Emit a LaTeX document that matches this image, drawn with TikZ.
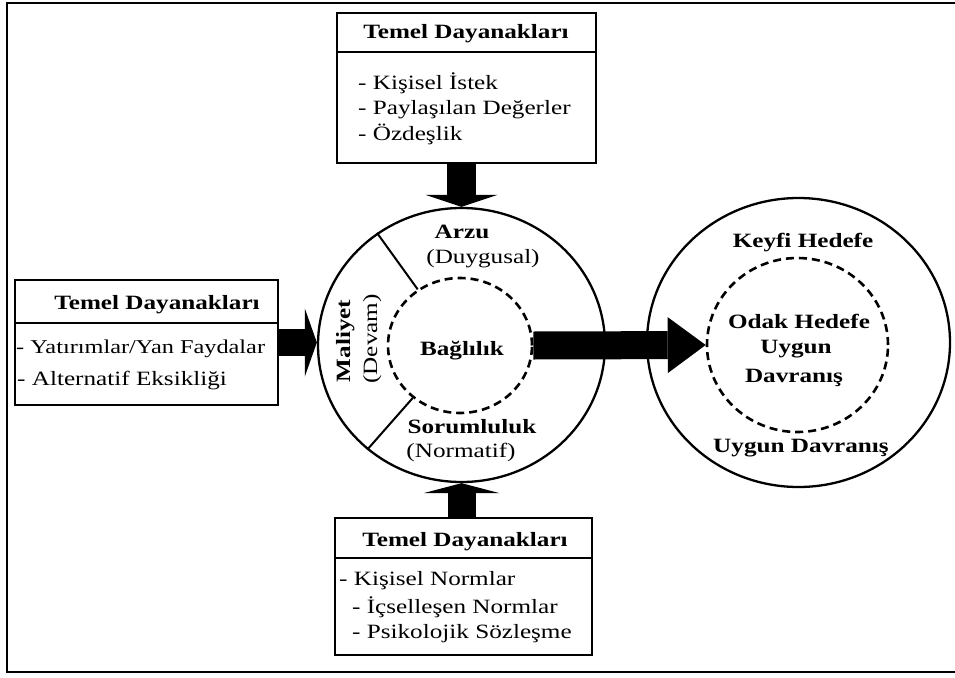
\documentclass[tikz,border=0pt]{standalone}
\usepackage{fontspec}
\setmainfont[FakeStretch=1.24]{Liberation Serif}
\usetikzlibrary{shapes.geometric,arrows.meta}

\begin{document}
\begin{tikzpicture}[x=1pt,y=-1pt,
  every node/.style={font=\fontsize{20.3}{25}\selectfont, inner sep=0pt},
  infobox/.style={draw, rectangle, line width=2.2pt},
  ring/.style={ellipse, draw, line width=2.3pt},
  dashring/.style={ellipse, draw, line width=2.6pt, dash pattern=on 8pt off 5pt},
  heading/.style={anchor=base, font=\fontsize{20.3}{25}\selectfont\bfseries},
  plain/.style={anchor=base},
  item/.style={anchor=base west},
  blockarrow/.style={line width=#1, draw=black}
]
% page area and outer frame (open on the right)
\useasboundingbox (0,0) rectangle (955,677);
\fill[white] (0,0) rectangle (955,677);
\draw[line width=2.4pt] (955,3) -- (7,3) -- (7,672) -- (955,672);

% three source boxes
\node[infobox, minimum width=259pt, minimum height=150pt] (topbox) at (466.5,88) {};
\node[infobox, minimum width=263pt, minimum height=125pt] (leftbox) at (146.5,342.5) {};
\node[infobox, minimum width=257pt, minimum height=137pt] (botbox) at (463.5,586.5) {};
\draw[line width=2pt] (topbox.west |- 0,52) -- (topbox.east |- 0,52);
\draw[line width=2pt] (leftbox.west |- 0,323) -- (leftbox.east |- 0,323);
\draw[line width=2pt] (botbox.west |- 0,558) -- (botbox.east |- 0,558);

\node[heading] (tophead) at (466,38) {Temel Dayanakları};
\node[item] (top1) at (358,89) {- Kişisel İstek};
\node[item] (top2) at (358,114) {- Paylaşılan Değerler};
\node[item] (top3) at (358,140) {- Özdeşlik};

\node[heading] (lefthead) at (157,309) {Temel Dayanakları};
\node[item, font=\fontsize{19.6}{25}\selectfont] (left1) at (16,353) {- Yatırımlar/Yan Faydalar};
\node[item] (left2) at (17,385) {- Alternatif Eksikliği};

\node[heading] (bothead) at (465,546) {Temel Dayanakları};
\node[item] (bot1) at (339,585) {- Kişisel Normlar};
\node[item] (bot2) at (352,613) {- İçselleşen Normlar};
\node[item] (bot3) at (352,638) {- Psikolojik Sözleşme};

% commitment circle
\node[ring, minimum width=287pt, minimum height=274pt] (commit) at (461.5,345) {};
\node[dashring, minimum width=144pt, minimum height=135pt] (bond) at (460,345.5) {};
\draw[line width=2pt] (bond.127) -- (commit.127);
\draw[line width=2pt] (bond.228) -- (commit.228);

\node[heading] (arzu) at (462,238) {Arzu};
\node[plain] (duygu) at (483,263) {(Duygusal)};
\node[heading] (bag) at (462,355) {Bağlılık};
\node[heading] (sorum) at (472,433) {Sorumluluk};
\node[plain] (norm) at (461,457) {(Normatif)};
\node[heading, rotate=90] (maliyet) at (350,341) {Maliyet};
\node[plain, rotate=90] (devam) at (377,339) {(Devam)};

% behaviour circle
\node[ring, minimum width=303pt, minimum height=289pt] (target) at (798.5,342.5) {};
\node[dashring, minimum width=181pt, minimum height=174pt] (focal) at (797.5,345) {};
\node[heading] (keyfi) at (803,247) {Keyfi Hedefe};
\node[heading] (odak) at (799,328) {Odak Hedefe};
\node[heading] (uygun) at (796,353) {Uygun};
\node[heading] (davr) at (794,382) {Davranış};
\node[heading] (uygund) at (801,452) {Uygun Davranış};

% block arrows
\draw[blockarrow=29pt, -{Triangle[width=72pt,length=12pt,line width=0pt]}]
  (topbox.south -| commit.north) -- (commit.north);
\draw[blockarrow=27pt, -{Triangle[width=68pt,length=12pt,line width=0pt]}]
  (leftbox.east) -- (leftbox.east -| commit.west);
\draw[blockarrow=28pt, -{Triangle[width=76pt,length=10pt,line width=0pt]}]
  (botbox.north -| commit.south) -- (commit.south);
\draw[blockarrow=28pt, -{Triangle[width=56pt,length=38pt,line width=0pt]}]
  (bond.east) -- (focal.west);
\end{tikzpicture}
\end{document}
